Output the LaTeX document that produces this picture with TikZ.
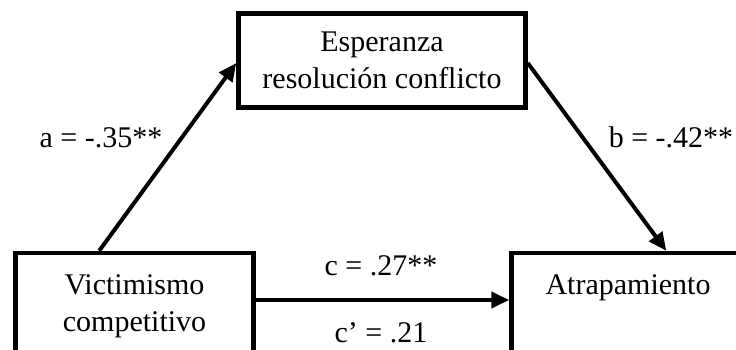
\documentclass[tikz,border=0pt]{standalone}
\usepackage{fontspec}
\setmainfont{Liberation Serif}
\usetikzlibrary{arrows.meta,calc}
\begin{document}
\begin{tikzpicture}[x=1pt,y=-1pt,
  box/.style={draw, line width=4.5pt, rectangle, align=center, font=\fontsize{30}{37}\selectfont, inner sep=0pt},
  lbl/.style={font=\fontsize{30}{37}\selectfont, inner sep=0pt, anchor=base},
  arr/.style={line width=4pt, -{Triangle[length=18pt,width=16pt]}}]
\useasboundingbox (0,0) rectangle (736,350);
\node[box, minimum width=238pt, minimum height=106pt] (vc) at (134.5,306) {Victimismo\\competitivo};
\node[box, minimum width=287pt, minimum height=94pt] (er) at (382,60.5) {Esperanza\\resolución conflicto};
\node[box, minimum width=233pt, minimum height=106pt] (at) at (628,306) {Atrapamiento\\\vphantom{p}};
\draw[arr] ([xshift=86pt]vc.north west) -- ([yshift=-2.5pt]er.west);
\draw[arr] ([yshift=-2.5pt]er.east) -- ([xshift=157pt]at.north west);
\draw[arr] ([yshift=6pt]vc.east) -- ([yshift=6pt]at.west);
\node[lbl] (la) at (101,147) {a = -.35**};
\node[lbl] (lb) at (671,147) {b = -.42**};
\node[lbl] (lc) at (381,275) {c = .27**};
\node[lbl] (lc2) at (381,342) {c’ = .21};
\end{tikzpicture}
\end{document}
